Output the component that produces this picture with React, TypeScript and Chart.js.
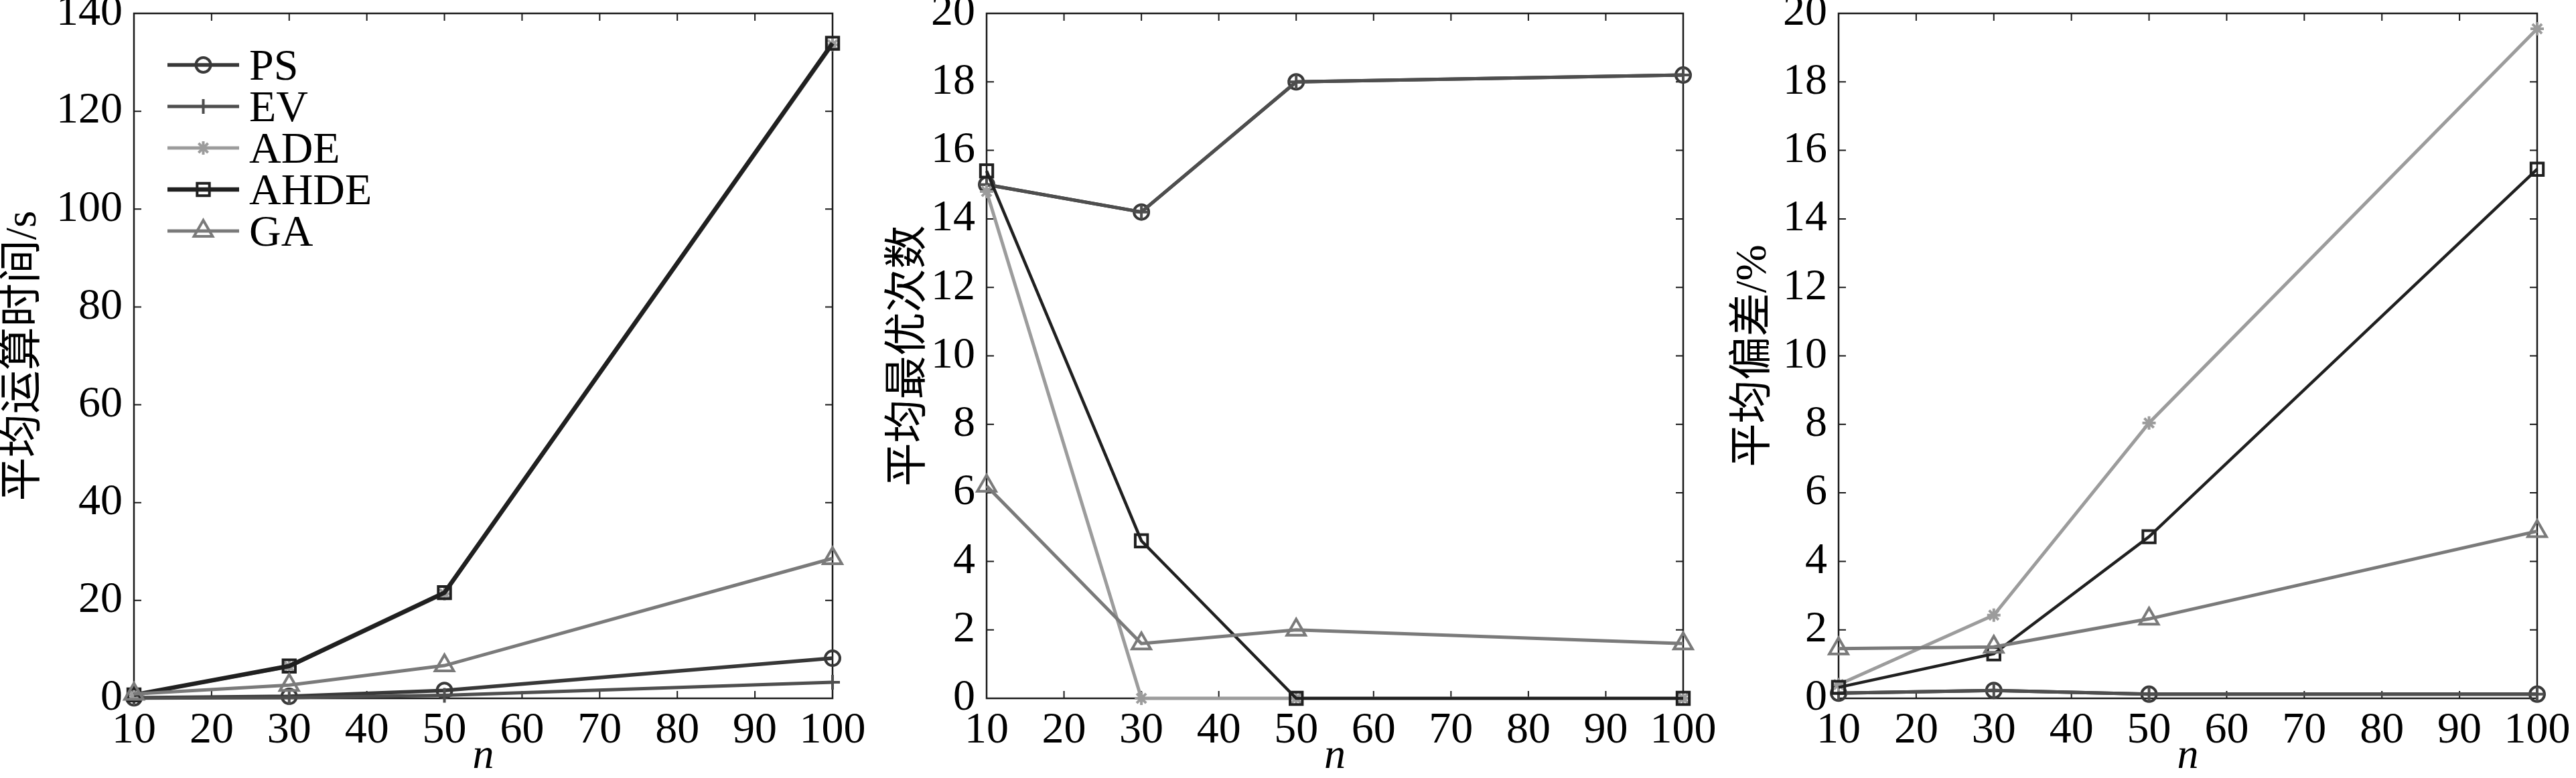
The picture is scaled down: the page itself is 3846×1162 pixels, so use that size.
import React, { useEffect, useRef } from 'react';
import { Chart, registerables } from 'chart.js';
import { drawPoint } from 'chart.js/helpers';

Chart.register(...registerables);

// ---------- data ----------
const nValues = [10, 30, 50, 100];
const seriesNames = ['PS', 'EV', 'ADE', 'AHDE', 'GA'];

const timePS = [0.1, 0.4, 1.6, 8.2];
const timeEV = [0.05, 0.15, 0.6, 3.3];
const timeADE = [0.7, 6.5, 21.4, 133.6];
const timeAHDE = [0.7, 6.6, 21.6, 133.9];
const timeGA = [0.9, 2.7, 6.7, 28.6];

const bestPS = [15.0, 14.2, 18.0, 18.2];
const bestEV = [15.0, 14.2, 18.0, 18.2];
const bestADE = [14.8, 0, 0, 0];
const bestAHDE = [15.4, 4.6, 0, 0];
const bestGA = [6.2, 1.6, 2.0, 1.6];

const devPS = [0.15, 0.23, 0.12, 0.12];
const devEV = [0.15, 0.23, 0.12, 0.12];
const devADE = [0.4, 2.43, 8.04, 19.55];
const devAHDE = [0.32, 1.3, 4.72, 15.45];
const devGA = [1.45, 1.5, 2.32, 4.88];

const xMin = 10;
const xMax = 100;
const xStep = 10;

const titles = ['平均运算时间/s', '平均最优次数', '平均偏差/%'];
const yMaxes = [140, 20, 20];
const ySteps = [20, 2, 2];

// ---------- styles ----------
const W = 3846;
const H = 1162;
const PLOT_TOP = 18;
const PLOT_BOTTOM = 1043;
const colors = ['#383838', '#4e4e4e', '#9c9c9c', '#202020', '#7a7a7a'];
const pointStyles = ['circle', 'cross', 'star', 'rect', 'triangle'];
const pointRadii = [11, 11, 10, 13, 16];
const drawOrder = [5, 4, 3, 2, 1];
const serif = "'Liberation Serif', 'Times New Roman', serif";
const titleFamily = "'Liberation Serif', 'Noto Sans CJK SC', serif";
const TITLE_SIZE = 65;

const panels = [
  { title: titles[0], yMax: yMaxes[0], yStep: ySteps[0], series: [timePS, timeEV, timeADE, timeAHDE, timeGA],
    axisLeft: 3, plotLeft: 200, plotRight: 1243, legend: true, widths: [5.5, 5, 5, 6.5, 5] },
  { title: titles[1], yMax: yMaxes[1], yStep: ySteps[1], series: [bestPS, bestEV, bestADE, bestAHDE, bestGA],
    axisLeft: 1325, plotLeft: 1473, plotRight: 2513, legend: false, widths: [5, 5, 5, 4.5, 5] },
  { title: titles[2], yMax: yMaxes[2], yStep: ySteps[2], series: [devPS, devEV, devADE, devAHDE, devGA],
    axisLeft: 2586, plotLeft: 2745, plotRight: 3788, legend: false, widths: [5, 5, 5, 4.5, 5] },
];

const frameTicks = {
  id: 'frameTicks',
  beforeDatasetsDraw(chart: any) {
    const { ctx, chartArea } = chart;
    const { left, right, top, bottom } = chartArea;
    const xs = chart.scales.x;
    const ys = chart.scales.y;
    const L = 11;
    ctx.save();
    ctx.strokeStyle = '#1a1a1a';
    ctx.lineWidth = 2;
    ctx.beginPath();
    xs.ticks.forEach((t: any) => {
      const px = xs.getPixelForValue(t.value);
      if (px <= left + 1 || px >= right - 1) return;
      ctx.moveTo(px, bottom); ctx.lineTo(px, bottom - L);
      ctx.moveTo(px, top); ctx.lineTo(px, top + L);
    });
    ys.ticks.forEach((t: any) => {
      const py = ys.getPixelForValue(t.value);
      if (py <= top + 1 || py >= bottom - 1) return;
      ctx.moveTo(left, py); ctx.lineTo(left + L, py);
      ctx.moveTo(right, py); ctx.lineTo(right - L, py);
    });
    ctx.stroke();
    ctx.lineWidth = 2.5;
    ctx.strokeRect(left, top, right - left, bottom - top);
    ctx.restore();
  },
};

const insetLegend = {
  id: 'insetLegend',
  afterDraw(chart: any, _args: any, opts: any) {
    if (!opts || !opts.show) return;
    const { ctx, chartArea } = chart;
    const x0 = chartArea.left + 50;
    const x1 = chartArea.left + 157;
    const xm = (x0 + x1) / 2;
    const tx = chartArea.left + 172;
    chart.data.datasets.forEach((ds: any, i: number) => {
      const y = chartArea.top + 77 + i * 62;
      ctx.save();
      ctx.strokeStyle = ds.borderColor;
      ctx.lineWidth = ds.borderWidth;
      ctx.beginPath();
      ctx.moveTo(x0, y);
      ctx.lineTo(x1, y);
      ctx.stroke();
      ctx.fillStyle = 'rgba(0,0,0,0)';
      ctx.strokeStyle = ds.pointBorderColor;
      ctx.lineWidth = ds.pointBorderWidth;
      drawPoint(ctx, { pointStyle: ds.pointStyle, radius: ds.pointRadius, rotation: 0, borderWidth: ds.pointBorderWidth } as any, xm, y);
      ctx.fillStyle = '#000';
      ctx.font = `66px ${serif}`;
      ctx.textAlign = 'left';
      ctx.textBaseline = 'alphabetic';
      ctx.fillText(ds.label, tx, y + 22);
      ctx.restore();
    });
  },
};

function Panel({ cfg }: { cfg: any }) {
  const ref = useRef<HTMLCanvasElement>(null);
  useEffect(() => {
    const yW = cfg.plotLeft - cfg.axisLeft;
    const datasets = seriesNames.map((name, i) => ({
      label: name,
      data: nValues.map((n, k) => ({ x: n, y: cfg.series[i][k] })),
      borderColor: colors[i],
      backgroundColor: 'rgba(0,0,0,0)',
      borderWidth: cfg.widths[i],
      pointStyle: pointStyles[i],
      pointRadius: pointRadii[i],
      pointBorderWidth: 4,
      pointBorderColor: colors[i],
      pointBackgroundColor: 'rgba(0,0,0,0)',
      tension: 0,
      clip: false as any,
      order: drawOrder[i],
    }));
    const chart = new Chart(ref.current as HTMLCanvasElement, {
      type: 'line',
      data: { datasets },
      plugins: [frameTicks, insetLegend],
      options: {
        animation: false,
        responsive: false,
        devicePixelRatio: 1,
        events: [],
        layout: { padding: { left: cfg.axisLeft, right: W - cfg.plotRight, top: PLOT_TOP, bottom: 0 } },
        plugins: {
          legend: { display: false },
          tooltip: { enabled: false },
          insetLegend: { show: cfg.legend },
        } as any,
        scales: {
          x: {
            type: 'linear',
            min: xMin,
            max: xMax,
            grid: { display: false, drawTicks: false },
            border: { display: false },
            ticks: {
              stepSize: xStep,
              autoSkip: false,
              maxRotation: 0,
              padding: 9,
              color: '#000',
              font: { family: serif, size: 66 },
            },
            title: {
              display: true,
              text: 'n',
              color: '#000',
              padding: { top: 0, bottom: 0 },
              font: { family: serif, size: 64, style: 'italic', lineHeight: 1 },
            },
            afterFit: (scale: any) => {
              scale.height = H - PLOT_BOTTOM;
              scale.paddingLeft = 0;
              scale.paddingRight = 0;
            },
          },
          y: {
            type: 'linear',
            min: 0,
            max: cfg.yMax,
            grid: { display: false, drawTicks: false },
            border: { display: false },
            ticks: {
              stepSize: cfg.yStep,
              padding: 17,
              color: '#000',
              font: { family: serif, size: 66 },
            },
            title: {
              display: true,
              text: cfg.title,
              color: '#000',
              padding: { top: 0, bottom: 0 },
              font: { family: titleFamily, size: TITLE_SIZE, lineHeight: 1 },
            },
            afterFit: (scale: any) => {
              scale.width = yW;
              scale.paddingTop = 0;
              scale.paddingBottom = 0;
            },
          },
        },
      } as any,
    });
    return () => chart.destroy();
  }, [cfg]);
  return (
    <canvas
      ref={ref}
      width={W}
      height={H}
      style={{ position: 'absolute', left: 0, top: 0, width: W, height: H }}
    />
  );
}

export default function App() {
  return (
    <div style={{ position: 'absolute', left: 0, top: 0, width: W, height: H, background: '#fff', overflow: 'hidden' }}>
      {panels.map((p, i) => (
        <Panel key={i} cfg={p} />
      ))}
    </div>
  );
}
